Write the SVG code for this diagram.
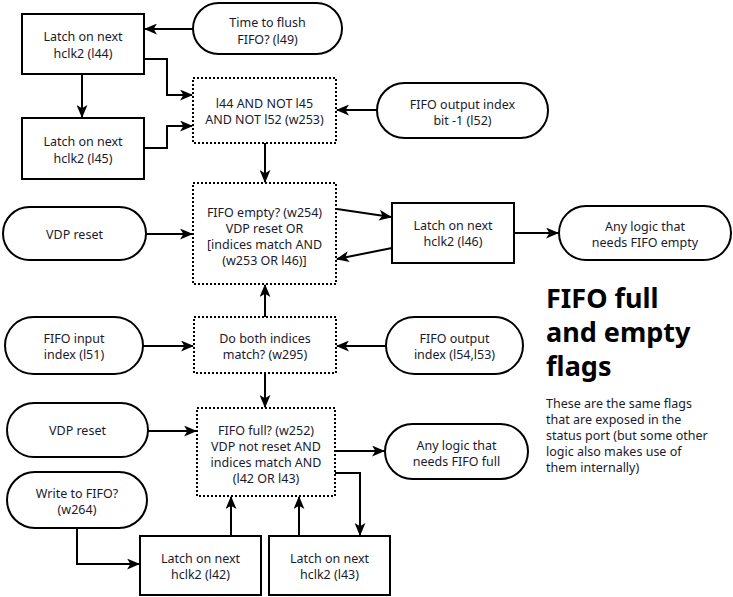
<svg xmlns="http://www.w3.org/2000/svg" width="733" height="597" viewBox="0 0 733 597">
<style>
.bx{fill:#fff;stroke:#000;stroke-width:2}
.dt{fill:#fff;stroke:#000;stroke-width:2;stroke-dasharray:2 2}
.t{font-family:"Noto Sans","Open Sans","DejaVu Sans",sans-serif;font-size:12.5px;fill:#1a1a2e;text-anchor:middle}
.c{fill:none;stroke:#000;stroke-width:2}
.h{font-family:"Noto Sans","Open Sans","DejaVu Sans",sans-serif;font-size:27px;font-weight:bold;fill:#000}
.d{font-family:"Noto Sans","Open Sans","DejaVu Sans",sans-serif;font-size:12.5px;fill:#1a1a2e}
</style>
<defs>
<marker id="a" viewBox="0 0 12 10" refX="11" refY="5" markerWidth="13" markerHeight="11" orient="auto" markerUnits="userSpaceOnUse">
<path d="M0,0 L12,5 L0,10 L3,5 z" fill="#000"/>
</marker>
</defs>
<g id="connectors">
<path class="c" marker-end="url(#a)" d="M193,29 H145"/>
<path class="c" marker-end="url(#a)" d="M144,59 H167 V95 H192"/>
<path class="c" marker-end="url(#a)" d="M82,74 V117"/>
<path class="c" marker-end="url(#a)" d="M144,148 H167 V126 H192"/>
<path class="c" marker-end="url(#a)" d="M377,110 H337"/>
<path class="c" marker-end="url(#a)" d="M265,143 V182"/>
<path class="c" marker-end="url(#a)" d="M146,234 H192"/>
<path class="c" marker-end="url(#a)" d="M337,209 L391,217"/>
<path class="c" marker-end="url(#a)" d="M392,248 L337,259"/>
<path class="c" marker-end="url(#a)" d="M514,233 H558"/>
<path class="c" marker-end="url(#a)" d="M265,317 V285"/>
<path class="c" marker-end="url(#a)" d="M143,346 H193"/>
<path class="c" marker-end="url(#a)" d="M386,346 H337"/>
<path class="c" marker-end="url(#a)" d="M265,373 V407"/>
<path class="c" marker-end="url(#a)" d="M148,431 H196"/>
<path class="c" marker-end="url(#a)" d="M335,451 H384"/>
<path class="c" marker-end="url(#a)" d="M335,473 H360 V535"/>
<path class="c" marker-end="url(#a)" d="M77,528 V564 H139"/>
<path class="c" marker-end="url(#a)" d="M231,536 V497"/>
<path class="c" marker-end="url(#a)" d="M299,536 V497"/>
</g>
<g id="l44"><rect class="bx" x="22" y="14" width="122" height="60"/><text class="t" x="83" y="41">Latch on next</text><text class="t" x="83" y="58">hclk2 (l44)</text></g>
<g id="l49"><rect class="bx" x="193" y="3" width="149" height="51" rx="25.5"/><text class="t" x="267.5" y="27">Time to flush</text><text class="t" x="267.5" y="44">FIFO? (l49)</text></g>
<g id="l45"><rect class="bx" x="22" y="118" width="122" height="61"/><text class="t" x="83" y="146">Latch on next</text><text class="t" x="83" y="163">hclk2 (l45)</text></g>
<g id="w253"><rect class="dt" x="193" y="78" width="143" height="65"/><text class="t" x="264.5" y="108">l44 AND NOT l45</text><text class="t" x="264.5" y="124">AND NOT l52 (w253)</text></g>
<g id="l52"><rect class="bx" x="377" y="83" width="171" height="55" rx="27.5"/><text class="t" x="462.5" y="109">FIFO output index</text><text class="t" x="462.5" y="125">bit -1 (l52)</text></g>
<g id="w254"><rect class="dt" x="193" y="183" width="143" height="101"/><text class="t" x="264.5" y="217">FIFO empty? (w254)</text><text class="t" x="264.5" y="233">VDP reset OR</text><text class="t" x="264.5" y="249">[indices match AND</text><text class="t" x="264.5" y="265">(w253 OR l46)]</text></g>
<g id="vdpreset1"><rect class="bx" x="3" y="207" width="143" height="53" rx="26.5"/><text class="t" x="74.5" y="239">VDP reset</text></g>
<g id="l46"><rect class="bx" x="392" y="203" width="122" height="60"/><text class="t" x="453" y="230">Latch on next</text><text class="t" x="453" y="246">hclk2 (l46)</text></g>
<g id="emptyout"><rect class="bx" x="559" y="206" width="172" height="54" rx="27"/><text class="t" x="645" y="231">Any logic that</text><text class="t" x="645" y="247">needs FIFO empty</text></g>
<g id="l51"><rect class="bx" x="5" y="317" width="138" height="57" rx="28.5"/><text class="t" x="74" y="343">FIFO input</text><text class="t" x="74" y="359">index (l51)</text></g>
<g id="w295"><rect class="dt" x="194" y="317" width="142" height="56"/><text class="t" x="265" y="343">Do both indices</text><text class="t" x="265" y="359">match? (w295)</text></g>
<g id="l54l53"><rect class="bx" x="386" y="317" width="137" height="57" rx="28.5"/><text class="t" x="454.5" y="343">FIFO output</text><text class="t" x="454.5" y="359">index (l54,l53)</text></g>
<g id="title"><text class="h" x="546" y="308">FIFO full</text><text class="h" x="546" y="342">and empty</text><text class="h" x="546" y="376">flags</text></g>
<g id="desc"><text class="d" x="546" y="408">These are the same flags</text><text class="d" x="546" y="424">that are exposed in the</text><text class="d" x="546" y="440">status port (but some other</text><text class="d" x="546" y="456">logic also makes use of</text><text class="d" x="546" y="472">them internally)</text></g>
<g id="vdpreset2"><rect class="bx" x="7" y="403" width="141" height="54" rx="27"/><text class="t" x="77.5" y="435">VDP reset</text></g>
<g id="w252"><rect class="dt" x="197" y="408" width="138" height="88"/><text class="t" x="266" y="435">FIFO full? (w252)</text><text class="t" x="266" y="451">VDP not reset AND</text><text class="t" x="266" y="467">indices match AND</text><text class="t" x="266" y="483">(l42 OR l43)</text></g>
<g id="fullout"><rect class="bx" x="385" y="424" width="143" height="55" rx="27.5"/><text class="t" x="456.5" y="450">Any logic that</text><text class="t" x="456.5" y="466">needs FIFO full</text></g>
<g id="w264"><rect class="bx" x="7" y="472" width="140" height="56" rx="28"/><text class="t" x="77" y="498">Write to FIFO?</text><text class="t" x="77" y="514">(w264)</text></g>
<g id="l42"><rect class="bx" x="140" y="536" width="121" height="59"/><text class="t" x="200.5" y="563">Latch on next</text><text class="t" x="200.5" y="579">hclk2 (l42)</text></g>
<g id="l43"><rect class="bx" x="269" y="536" width="121" height="59"/><text class="t" x="329.5" y="563">Latch on next</text><text class="t" x="329.5" y="579">hclk2 (l43)</text></g>
</svg>
